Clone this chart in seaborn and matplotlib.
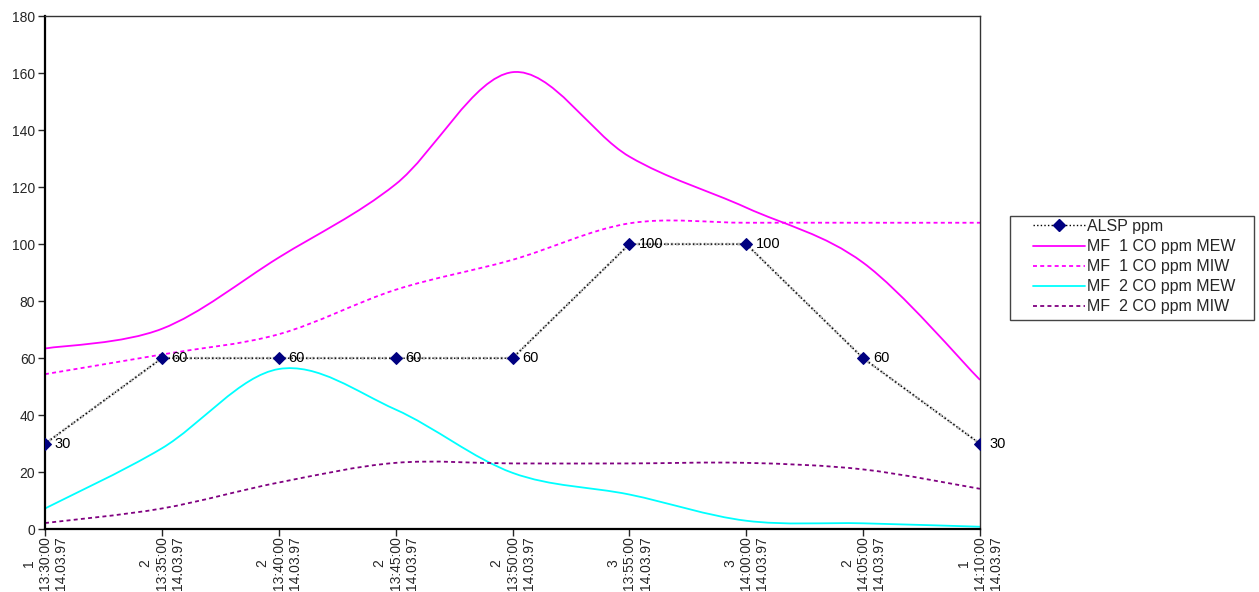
import numpy as np
import pandas as pd
import matplotlib
matplotlib.use("Agg")
import matplotlib.pyplot as plt
from matplotlib.path import Path
from matplotlib.patches import PathPatch, Rectangle
from matplotlib.lines import Line2D
import seaborn as sns

# Data
times = ["13:30:00", "13:35:00", "13:40:00", "13:45:00", "13:50:00",
         "13:55:00", "14:00:00", "14:05:00", "14:10:00"]
stage = ["1", "2", "2", "2", "2", "3", "3", "2", "1"]
date = "14.03.97"

alsp = [30, 60, 60, 60, 60, 100, 100, 60, 30]
mf1_mew = [63.4, 70.3, 95.3, 121.0, 160.3, 130.7, 112.8, 93.5, 52.4]
mf1_miw = [54.4, 61.3, 68.4, 84.0, 94.5, 107.3, 107.5, 107.5, 107.5]
mf2_mew = [7.3, 28.4, 56.2, 42.0, 19.8, 12.2, 3.0, 2.1, 0.9]
mf2_miw = [2.2, 7.3, 16.4, 23.3, 23.1, 23.1, 23.3, 21.0, 14.2]

sns.set_theme(style="white")
plt.rcParams['font.family'] = ['Liberation Sans', 'DejaVu Sans']

fig = plt.figure(figsize=(12.59, 5.92), dpi=100)
ax = fig.add_axes([45 / 1259, 62.7 / 592, 935 / 1259, 513.3 / 592])

x = np.arange(len(times))
df = pd.DataFrame({"x": x, "ALSP ppm": alsp})


def smooth_path(xs, ys):
    # excel style smoothed line: cubic bezier with catmull-rom control points
    pts = np.column_stack([xs, ys]).astype(float)
    n = len(pts)
    verts = [pts[0]]
    codes = [Path.MOVETO]
    for i in range(n - 1):
        p0 = pts[max(i - 1, 0)]
        p1 = pts[i]
        p2 = pts[i + 1]
        p3 = pts[min(i + 2, n - 1)]
        c1 = p1 + (p2 - p0) / 6.0
        c2 = p2 - (p3 - p1) / 6.0
        verts += [c1, c2, p2]
        codes += [Path.CURVE4] * 3
    return Path(verts, codes)


dash = (0, (2.2, 1.8))
series = [
    ("MF  1 CO ppm MEW", mf1_mew, "#FF00FF", "-"),
    ("MF  1 CO ppm MIW", mf1_miw, "#FF00FF", dash),
    ("MF  2 CO ppm MEW", mf2_mew, "#00FFFF", "-"),
    ("MF  2 CO ppm MIW", mf2_miw, "#800080", dash),
]
for name, vals, col, ls in series:
    patch = PathPatch(smooth_path(x, vals), facecolor="none", edgecolor=col,
                      linestyle=ls, linewidth=1.3, zorder=2)
    ax.add_patch(patch)

# ALSP ppm with markers and data labels
sns.lineplot(data=df, x="x", y="ALSP ppm", ax=ax, color="#BBBBBB",
             linewidth=2.0, linestyle=(0, (1, 1)), zorder=3)
sns.lineplot(data=df, x="x", y="ALSP ppm", ax=ax, color="black",
             linewidth=1.0, linestyle=(0, (1, 1.6)), marker="D", markersize=6,
             markerfacecolor="#000080", markeredgecolor="#000080", zorder=4)
for xi, v in zip(x, alsp):
    ax.annotate(str(v), (xi, v), xytext=(7, 0), textcoords="offset points",
                va="center", ha="left", fontsize=10.5, color="black")

ax.set_xlim(0, len(times) - 1)
ax.set_ylim(0, 180)
ax.set_yticks(np.arange(0, 181, 20))
ax.set_xticks(x)
ax.set_xticklabels([f"{s}\n{t}\n{date}" for s, t in zip(stage, times)],
                   rotation=90, multialignment="center", fontsize=10)
ax.tick_params(axis="y", labelsize=10, direction="out", length=5, width=1,
               left=True, pad=2)
ax.tick_params(axis="x", direction="out", length=5, width=1, bottom=True,
               pad=0)
ax.set_xlabel("")
ax.set_ylabel("")
ax.grid(False)

for side in ["left", "bottom"]:
    ax.spines[side].set_color("black")
    ax.spines[side].set_linewidth(1.6)
for side in ["top", "right"]:
    ax.spines[side].set_color("#333333")
    ax.spines[side].set_linewidth(1.0)

# legend (frame drawn separately to get the wide left margin)
handles = [
    Line2D([], [], color="black", linestyle=(0, (1, 1.6)), linewidth=1.0,
           marker="D", markersize=6, markerfacecolor="#000080",
           markeredgecolor="#000080"),
]
for name, vals, col, ls in series:
    handles.append(Line2D([], [], color=col, linestyle=ls, linewidth=1.3))
labels = ["ALSP ppm"] + [s[0] for s in series]

fig.legend(handles, labels, loc="upper left",
           bbox_to_anchor=(1033 / 1259, 1 - 219 / 592),
           bbox_transform=fig.transFigure, fontsize=11.5, frameon=False,
           borderaxespad=0, borderpad=0, handlelength=3.25,
           handletextpad=0.12, labelspacing=0.32)
fig.add_artist(Rectangle((1010 / 1259, 1 - 320 / 592), 244 / 1259, 104 / 592,
                         transform=fig.transFigure, fill=False,
                         edgecolor="#444444", linewidth=1.0))

fig.savefig("out.png", dpi=100)
